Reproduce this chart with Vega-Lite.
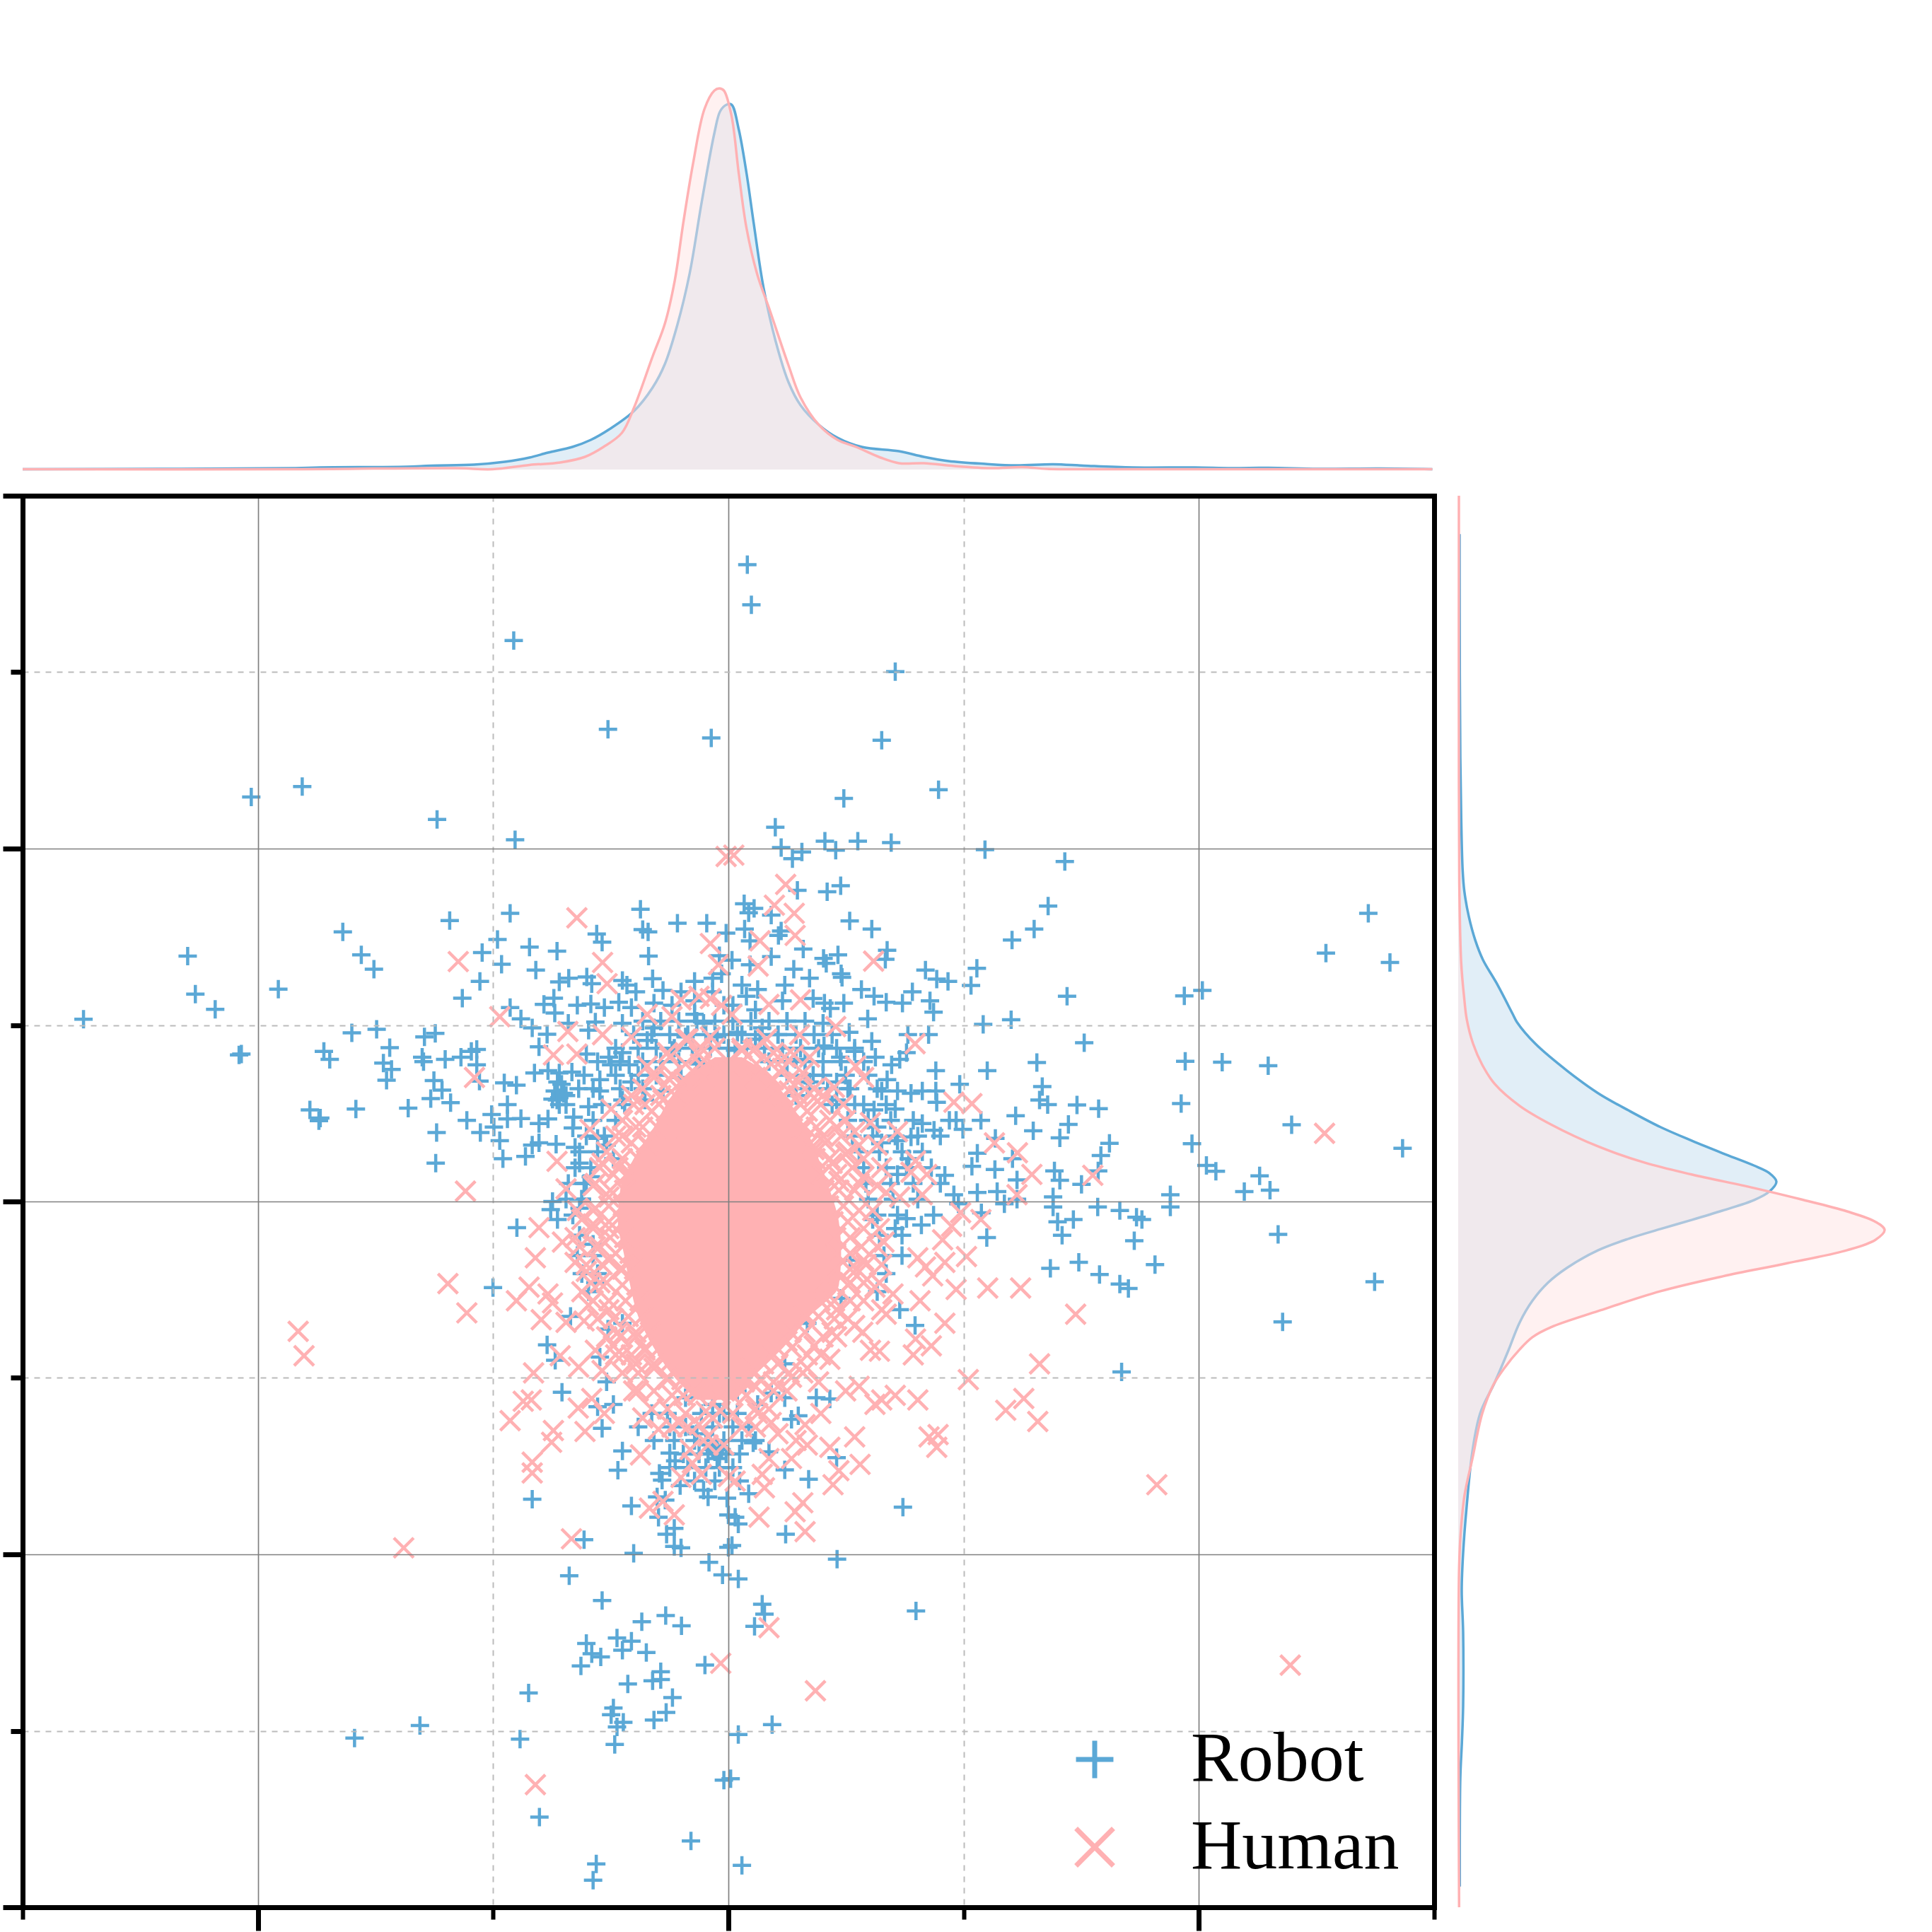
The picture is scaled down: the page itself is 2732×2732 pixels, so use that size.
{"$schema":"https://vega.github.io/schema/vega-lite/v6.json","padding":{"top":117,"left":0,"right":0,"bottom":0},"background":"white",
"config":{"view":{"stroke":null},"legend":{"labelFont":"Liberation Serif","labelFontSize":100,"labelColor":"#000","labelLimit":600,"symbolSize":2800,"symbolStrokeWidth":7,"title":null,"rowPadding":24,"labelOffset":86}},
"datasets":{
"robot":[{"x":-476,"y":1244},{"x":-267,"y":1047},{"x":-38,"y":1028},{"x":-945,"y":920},{"x":-1058,"y":897},{"x":-646,"y":847},{"x":-473,"y":802},{"x":-618,"y":623},{"x":-484,"y":639},{"x":-195,"y":648},{"x":-113,"y":617},{"x":-48,"y":617},{"x":-5,"y":595},{"x":-855,"y":598},{"x":-1199,"y":544},{"x":-512,"y":581},{"x":-814,"y":547},{"x":-546,"y":552},{"x":-441,"y":564},{"x":-380,"y":555},{"x":-292,"y":593},{"x":-280,"y":575},{"x":-190,"y":603},{"x":-178,"y":598},{"x":-177,"y":544},{"x":-786,"y":515},{"x":-503,"y":526},{"x":-427,"y":513},{"x":-1182,"y":460},{"x":-998,"y":471},{"x":-551,"y":488},{"x":-375,"y":487},{"x":-354,"y":495},{"x":-314,"y":498},{"x":-303,"y":483},{"x":-235,"y":490},{"x":-225,"y":480},{"x":-168,"y":494},{"x":-75,"y":488},{"x":-35,"y":495},{"x":-1138,"y":426},{"x":-590,"y":451},{"x":-387,"y":451},{"x":-409,"y":437},{"x":-385,"y":418},{"x":-335,"y":435},{"x":-305,"y":438},{"x":-275,"y":430},{"x":-243,"y":442},{"x":-205,"y":465},{"x":-145,"y":468},{"x":-105,"y":465},{"x":-165,"y":440},{"x":-215,"y":430},{"x":-1430,"y":404},{"x":-484,"y":430},{"x":-460,"y":405},{"x":-435,"y":385},{"x":-402,"y":371},{"x":-355,"y":395},{"x":-310,"y":380},{"x":-295,"y":398},{"x":-235,"y":395},{"x":-75,"y":415},{"x":-835,"y":374},{"x":-780,"y":382},{"x":-650,"y":373},{"x":-674,"y":365},{"x":-1080,"y":327},{"x":-1085,"y":325},{"x":-897,"y":333},{"x":-884,"y":315},{"x":-751,"y":341},{"x":-679,"y":320},{"x":-676,"y":310},{"x":-628,"y":315},{"x":-593,"y":320},{"x":-570,"y":333},{"x":-558,"y":337},{"x":-558,"y":303},{"x":-420,"y":343},{"x":-315,"y":327},{"x":-265,"y":320},{"x":-235,"y":330},{"x":-180,"y":357},{"x":-765,"y":307},{"x":-747,"y":293},{"x":-758,"y":269},{"x":-653,"y":268},{"x":-635,"y":247},{"x":-552,"y":267},{"x":-497,"y":263},{"x":-470,"y":258},{"x":-430,"y":285},{"x":-400,"y":290},{"x":-375,"y":285},{"x":-347,"y":287},{"x":-285,"y":270},{"x":-260,"y":303},{"x":-220,"y":303},{"x":-660,"y":228},{"x":-616,"y":219},{"x":-490,"y":215},{"x":-379,"y":265},{"x":-332,"y":250},{"x":-285,"y":245},{"x":-375,"y":230},{"x":-390,"y":227},{"x":-360,"y":215},{"x":-310,"y":210},{"x":-928,"y":203},{"x":-905,"y":185},{"x":-908,"y":179},{"x":-826,"y":205},{"x":-710,"y":207},{"x":-580,"y":180},{"x":-525,"y":193},{"x":-490,"y":183},{"x":-460,"y":184},{"x":-420,"y":173},{"x":-400,"y":183},{"x":-343,"y":187},{"x":-345,"y":163},{"x":-647,"y":153},{"x":-550,"y":153},{"x":-520,"y":165},{"x":-507,"y":135},{"x":-435,"y":125},{"x":-420,"y":130},{"x":-382,"y":127},{"x":-340,"y":120},{"x":-270,"y":125},{"x":-290,"y":140},{"x":-649,"y":85},{"x":-500,"y":95},{"x":-450,"y":100},{"x":-330,"y":85},{"x":-305,"y":55},{"x":-255,"y":95},{"x":-315,"y":40},{"x":-390,"y":0},{"x":-325,"y":5},{"x":-165,"y":385},{"x":-125,"y":335},{"x":-95,"y":365},{"x":-55,"y":395},{"x":-25,"y":365},{"x":-65,"y":305},{"x":-10,"y":435},{"x":-215,"y":265},{"x":-235,"y":225},{"x":-145,"y":245},{"x":-105,"y":275},{"x":-185,"y":225},{"x":-35,"y":465},{"x":-15,"y":505},{"x":-125,"y":435},{"x":-75,"y":445},{"x":-20,"y":545},
{"x":42,"y":1412},{"x":51,"y":1323},{"x":370,"y":1175},{"x":340,"y":1023},{"x":466,"y":913},{"x":256,"y":894},{"x":104,"y":830},{"x":214,"y":799},{"x":287,"y":799},{"x":361,"y":796},{"x":117,"y":785},{"x":163,"y":775},{"x":142,"y":760},{"x":238,"y":779},{"x":569,"y":780},{"x":746,"y":754},{"x":153,"y":690},{"x":219,"y":687},{"x":249,"y":700},{"x":35,"y":660},{"x":57,"y":650},{"x":45,"y":640},{"x":95,"y":635},{"x":709,"y":655},{"x":269,"y":622},{"x":318,"y":604},{"x":36,"y":604},{"x":117,"y":600},{"x":111,"y":590},{"x":678,"y":604},{"x":1419,"y":639},{"x":629,"y":580},{"x":48,"y":578},{"x":166,"y":560},{"x":352,"y":557},{"x":348,"y":537},{"x":1325,"y":551},{"x":243,"y":547},{"x":211,"y":539},{"x":217,"y":528},{"x":95,"y":543},{"x":8,"y":535},{"x":48,"y":525},{"x":1467,"y":530},{"x":145,"y":515},{"x":551,"y":517},{"x":250,"y":505},{"x":252,"y":497},{"x":437,"y":513},{"x":462,"y":493},{"x":487,"y":488},{"x":180,"y":495},{"x":538,"y":479},{"x":125,"y":480},{"x":30,"y":480},{"x":65,"y":470},{"x":295,"y":470},{"x":323,"y":455},{"x":350,"y":442},{"x":386,"y":440},{"x":408,"y":465},{"x":447,"y":445},{"x":455,"y":420},{"x":751,"y":455},{"x":1011,"y":456},{"x":1051,"y":468},{"x":188,"y":450},{"x":213,"y":440},{"x":226,"y":428},{"x":256,"y":440},{"x":40,"y":455},{"x":120,"y":445},{"x":309,"y":405},{"x":565,"y":393},{"x":627,"y":403},{"x":130,"y":400},{"x":75,"y":385},{"x":20,"y":375},{"x":210,"y":395},{"x":268,"y":375},{"x":398,"y":370},{"x":444,"y":370},{"x":789,"y":352},{"x":318,"y":355},{"x":212,"y":345},{"x":280,"y":333},{"x":326,"y":320},{"x":248,"y":320},{"x":380,"y":315},{"x":362,"y":303},{"x":395,"y":330},{"x":684,"y":308},{"x":1013,"y":311},{"x":1095,"y":309},{"x":1197,"y":301},{"x":574,"y":290},{"x":460,"y":290},{"x":188,"y":280},{"x":240,"y":265},{"x":352,"y":270},{"x":513,"y":260},{"x":696,"y":255},{"x":265,"y":250},{"x":340,"y":245},{"x":375,"y":245},{"x":405,"y":240},{"x":430,"y":245},{"x":460,"y":245},{"x":690,"y":225},{"x":708,"y":215},{"x":773,"y":214},{"x":821,"y":206},{"x":1004,"y":217},{"x":300,"y":215},{"x":323,"y":203},{"x":370,"y":205},{"x":462,"y":220},{"x":637,"y":190},{"x":560,"y":180},{"x":505,"y":180},{"x":490,"y":180},{"x":430,"y":173},{"x":456,"y":158},{"x":520,"y":160},{"x":676,"y":157},{"x":754,"y":171},{"x":1249,"y":170},{"x":735,"y":141},{"x":340,"y":130},{"x":405,"y":143},{"x":375,"y":135},{"x":592,"y":140},{"x":845,"y":129},{"x":1028,"y":128},{"x":1495,"y":118},{"x":552,"y":107},{"x":826,"y":102},{"x":630,"y":95},{"x":400,"y":95},{"x":540,"y":78},{"x":591,"y":71},{"x":723,"y":68},{"x":820,"y":68},{"x":1060,"y":80},{"x":1081,"y":67},{"x":375,"y":60},{"x":480,"y":58},{"x":1178,"y":57},{"x":640,"y":48},{"x":735,"y":47},{"x":783,"y":38},{"x":1201,"y":25},{"x":552,"y":20},{"x":596,"y":22},{"x":1144,"y":22},{"x":980,"y":15},{"x":500,"y":15},{"x":720,"y":10},{"x":640,"y":5},{"x":10,"y":435},{"x":60,"y":425},{"x":110,"y":370},{"x":60,"y":360},{"x":15,"y":335},{"x":150,"y":315},{"x":180,"y":265},{"x":240,"y":225},{"x":150,"y":235},{"x":330,"y":165},
{"x":-394,"y":-18},{"x":-379,"y":-40},{"x":-469,"y":-58},{"x":-330,"y":-15},{"x":-522,"y":-191},{"x":-300,"y":-95},{"x":-295,"y":-180},{"x":-350,"y":-255},{"x":-267,"y":-283},{"x":-235,"y":-270},{"x":-402,"y":-318},{"x":-384,"y":-352},{"x":-285,"y":-345},{"x":-369,"y":-423},{"x":-270,"y":-400},{"x":-290,"y":-455},{"x":-255,"y":-450},{"x":-95,"y":-435},{"x":-35,"y":-450},{"x":-280,"y":-503},{"x":-235,"y":-553},{"x":-130,"y":-558},{"x":-118,"y":-575},{"x":-70,"y":-515},{"x":-35,"y":-550},{"x":-20,"y":-560},{"x":-10,"y":-470},{"x":-25,"y":-570},{"x":-40,"y":-540},{"x":-30,"y":-555},{"x":-25,"y":-545},{"x":-45,"y":-560},{"x":-15,"y":-550},{"x":-245,"y":-596},{"x":-153,"y":-603},{"x":-147,"y":-618},{"x":-107,"y":-630},{"x":-55,"y":-640},{"x":-45,"y":-655},{"x":-435,"y":-660},{"x":-215,"y":-675},{"x":-158,"y":-655},{"x":-140,"y":-662},{"x":-3,"y":-658},{"x":-155,"y":-700},{"x":0,"y":-695},{"x":-320,"y":-750},{"x":-120,"y":-725},{"x":-137,"y":-738},{"x":-120,"y":-765},{"x":-105,"y":-768},{"x":-210,"y":-780},{"x":0,"y":-767},{"x":-43,"y":-800},{"x":-353,"y":-830},{"x":-13,"y":-828},{"x":-280,"y":-885},{"x":-192,"y":-932},{"x":-139,"y":-918},{"x":-104,"y":-941},{"x":-315,"y":-980},{"x":-247,"y":-968},{"x":-215,"y":-975},{"x":-303,"y":-1003},{"x":-283,"y":-1010},{"x":-235,"y":-995},{"x":-182,"y":-1000},{"x":-327,"y":-1030},{"x":-52,"y":-1028},{"x":-150,"y":-1043},{"x":-150,"y":-1060},{"x":-168,"y":-1063},{"x":-223,"y":-1070},{"x":-443,"y":-1090},{"x":-124,"y":-1100},{"x":-255,"y":-1123},{"x":-260,"y":-1138},{"x":-233,"y":-1155},{"x":-165,"y":-1150},{"x":-138,"y":-1133},{"x":-247,"y":-1165},{"x":-684,"y":-1162},{"x":-829,"y":-1190},{"x":-462,"y":-1192},{"x":-252,"y":-1204},{"x":-10,"y":-1283},{"x":-419,"y":-1365},{"x":-83,"y":-1418},{"x":-293,"y":-1469},{"x":-300,"y":-1505},
{"x":720,"y":-12},{"x":819,"y":-12},{"x":868,"y":-20},{"x":980,"y":-12},{"x":905,"y":-35},{"x":917,"y":-40},{"x":765,"y":-40},{"x":730,"y":-45},{"x":612,"y":-5},{"x":561,"y":-25},{"x":455,"y":-30},{"x":395,"y":-38},{"x":428,"y":-52},{"x":1219,"y":-73},{"x":740,"y":-75},{"x":900,"y":-87},{"x":573,"y":-80},{"x":1433,"y":-178},{"x":777,"y":-135},{"x":946,"y":-140},{"x":714,"y":-148},{"x":823,"y":-162},{"x":868,"y":-183},{"x":887,"y":-193},{"x":1229,"y":-267},{"x":380,"y":-240},{"x":414,"y":-275},{"x":872,"y":-378},{"x":225,"y":-438},{"x":195,"y":-435},{"x":125,"y":-435},{"x":95,"y":-425},{"x":65,"y":-450},{"x":140,"y":-483},{"x":155,"y":-475},{"x":55,"y":-535},{"x":90,"y":-555},{"x":125,"y":-595},{"x":240,"y":-568},{"x":178,"y":-616},{"x":45,"y":-648},{"x":387,"y":-678},{"x":15,"y":-700},{"x":22,"y":-715},{"x":127,"y":-738},{"x":8,"y":-763},{"x":241,"y":-793},{"x":22,"y":-837},{"x":75,"y":-893},{"x":80,"y":-915},{"x":58,"y":-942},{"x":416,"y":-908},{"x":97,"y":-1160},{"x":22,"y":-1182},{"x":30,"y":-1472},{"x":5,"y":-1280},{"x":510,"y":-5},{"x":270,"y":-130},{"x":250,"y":-215},{"x":175,"y":-270},{"x":125,"y":-360},{"x":20,"y":-420},{"x":320,"y":-40},{"x":370,"y":-60},
{"x":-190,"y":400},{"x":-150,"y":400},{"x":-110,"y":400},{"x":-70,"y":400},{"x":-30,"y":400},{"x":10,"y":400},{"x":50,"y":400},{"x":90,"y":400},{"x":130,"y":400},{"x":170,"y":400},{"x":-210,"y":370},{"x":-170,"y":370},{"x":-130,"y":370},{"x":-90,"y":370},{"x":-50,"y":370},{"x":-10,"y":370},{"x":30,"y":370},{"x":70,"y":370},{"x":110,"y":370},{"x":150,"y":370},{"x":190,"y":370},{"x":230,"y":370},{"x":-250,"y":340},{"x":-200,"y":340},{"x":-160,"y":340},{"x":-120,"y":340},{"x":-80,"y":340},{"x":-40,"y":340},{"x":0,"y":340},{"x":40,"y":340},{"x":80,"y":340},{"x":120,"y":340},{"x":160,"y":340},{"x":200,"y":340},{"x":240,"y":340},{"x":280,"y":340},{"x":-290,"y":310},{"x":-240,"y":310},{"x":-190,"y":310},{"x":-150,"y":310},{"x":-110,"y":310},{"x":-70,"y":310},{"x":90,"y":310},{"x":130,"y":310},{"x":170,"y":310},{"x":210,"y":310},{"x":250,"y":310},{"x":300,"y":310},{"x":-320,"y":280},{"x":-250,"y":280},{"x":-200,"y":280},{"x":-160,"y":280},{"x":130,"y":280},{"x":170,"y":280},{"x":210,"y":280},{"x":260,"y":280},{"x":310,"y":280},{"x":-300,"y":250},{"x":-240,"y":250},{"x":-190,"y":250},{"x":175,"y":250},{"x":220,"y":250},{"x":270,"y":250},{"x":330,"y":250},{"x":-280,"y":215},{"x":-230,"y":215},{"x":230,"y":215},{"x":280,"y":215},{"x":350,"y":215},{"x":-300,"y":180},{"x":-250,"y":180},{"x":265,"y":180},{"x":310,"y":180},{"x":360,"y":180},{"x":410,"y":180},{"x":-315,"y":145},{"x":-275,"y":145},{"x":275,"y":145},{"x":320,"y":145},{"x":370,"y":145},{"x":420,"y":145},{"x":470,"y":145},{"x":-330,"y":110},{"x":-290,"y":110},{"x":290,"y":110},{"x":335,"y":110},{"x":385,"y":110},{"x":430,"y":110},{"x":-340,"y":75},{"x":-305,"y":75},{"x":300,"y":75},{"x":350,"y":75},{"x":395,"y":75},{"x":450,"y":75},{"x":-355,"y":40},{"x":-320,"y":40},{"x":305,"y":40},{"x":360,"y":40},{"x":410,"y":40},{"x":470,"y":40},{"x":-360,"y":5},{"x":-325,"y":5},{"x":310,"y":5},{"x":365,"y":5},{"x":420,"y":5},{"x":-345,"y":-30},{"x":330,"y":-30},{"x":375,"y":-30},{"x":-330,"y":-75},{"x":335,"y":-75},{"x":385,"y":-75},{"x":-335,"y":-120},{"x":-300,"y":-120},{"x":345,"y":-120},{"x":385,"y":-120},{"x":-325,"y":-160},{"x":-290,"y":-160},{"x":350,"y":-160},{"x":-310,"y":-200},{"x":330,"y":-200},{"x":-385,"y":245},{"x":-365,"y":240},{"x":-370,"y":260},{"x":-380,"y":225},{"x":-360,"y":235},{"x":-375,"y":215},{"x":-170,"y":-470},{"x":-135,"y":-470},{"x":-60,"y":-470},{"x":-20,"y":-470},{"x":20,"y":-470},{"x":-200,"y":-500},{"x":-130,"y":-500},{"x":-95,"y":-500},{"x":-35,"y":-500},{"x":10,"y":-500},{"x":45,"y":-500},{"x":-165,"y":-530},{"x":-120,"y":-530},{"x":-75,"y":-530},{"x":-50,"y":-530},{"x":-10,"y":-530},{"x":30,"y":-530},{"x":60,"y":-530},{"x":-100,"y":-560},{"x":-65,"y":-560},{"x":-5,"y":-560},{"x":25,"y":-560},{"x":-130,"y":-590},{"x":-90,"y":-590},{"x":-50,"y":-590},{"x":-20,"y":-590},{"x":10,"y":-590},{"x":-75,"y":-620},{"x":-30,"y":-620},{"x":25,"y":-620}],
"human":[{"x":-336,"y":629},{"x":-599,"y":532},{"x":-40,"y":572},{"x":-279,"y":530},{"x":-22,"y":525},{"x":-269,"y":483},{"x":-507,"y":410},{"x":-105,"y":447},{"x":-65,"y":455},{"x":-40,"y":450},{"x":-15,"y":435},{"x":-180,"y":415},{"x":-125,"y":410},{"x":-356,"y":377},{"x":-279,"y":370},{"x":-215,"y":365},{"x":-95,"y":360},{"x":-40,"y":365},{"x":-388,"y":325},{"x":-336,"y":327},{"x":-563,"y":275},{"x":-135,"y":330},{"x":-65,"y":325},{"x":-180,"y":300},{"x":-125,"y":280},{"x":-260,"y":205},{"x":-215,"y":235},{"x":-307,"y":160},{"x":-165,"y":275},{"x":-235,"y":145},{"x":-185,"y":215},{"x":-380,"y":89},{"x":-280,"y":85},{"x":-360,"y":28},{"x":-583,"y":23},{"x":-300,"y":35},{"x":-245,"y":75},{"x":-205,"y":165},{"x":-145,"y":225},{"x":-105,"y":265},{"x":-55,"y":275},{"x":-25,"y":295},{"x":-5,"y":765},{"x":-265,"y":10},{"x":-220,"y":65},{"x":-180,"y":125},{"x":-135,"y":165},{"x":-85,"y":215},
{"x":12,"y":768},{"x":127,"y":703},{"x":102,"y":657},{"x":146,"y":639},{"x":70,"y":578},{"x":148,"y":590},{"x":66,"y":522},{"x":322,"y":533},{"x":160,"y":447},{"x":90,"y":437},{"x":8,"y":415},{"x":238,"y":388},{"x":158,"y":370},{"x":414,"y":350},{"x":180,"y":320},{"x":145,"y":325},{"x":100,"y":330},{"x":55,"y":335},{"x":30,"y":335},{"x":282,"y":300},{"x":300,"y":275},{"x":235,"y":253},{"x":10,"y":295},{"x":60,"y":275},{"x":120,"y":295},{"x":155,"y":265},{"x":190,"y":230},{"x":210,"y":235},{"x":255,"y":215},{"x":500,"y":220},{"x":540,"y":217},{"x":315,"y":175},{"x":280,"y":155},{"x":375,"y":155},{"x":240,"y":165},{"x":210,"y":145},{"x":170,"y":165},{"x":190,"y":115},{"x":330,"y":125},{"x":300,"y":95},{"x":415,"y":90},{"x":440,"y":60},{"x":590,"y":130},{"x":641,"y":108},{"x":673,"y":60},{"x":808,"y":58},{"x":1322,"y":151},{"x":640,"y":15},{"x":430,"y":15},{"x":405,"y":65},{"x":300,"y":55},{"x":340,"y":75},{"x":260,"y":105},{"x":230,"y":85},{"x":280,"y":25},{"x":330,"y":35},{"x":380,"y":10},{"x":245,"y":45},{"x":135,"y":245},{"x":100,"y":235},{"x":260,"y":180},{"x":160,"y":215},{"x":290,"y":125},{"x":350,"y":20},
{"x":-420,"y":-58},{"x":-325,"y":-40},{"x":-300,"y":-50},{"x":-368,"y":-90},{"x":-340,"y":-80},{"x":-428,"y":-125},{"x":-340,"y":-135},{"x":-315,"y":-155},{"x":-622,"y":-182},{"x":-442,"y":-190},{"x":-470,"y":-220},{"x":-400,"y":-205},{"x":-390,"y":-225},{"x":-580,"y":-247},{"x":-415,"y":-262},{"x":-360,"y":-268},{"x":-320,"y":-265},{"x":-310,"y":-230},{"x":-265,"y":-240},{"x":-954,"y":-288},{"x":-941,"y":-342},{"x":-373,"y":-342},{"x":-432,"y":-380},{"x":-332,"y":-367},{"x":-295,"y":-330},{"x":-235,"y":-340},{"x":-255,"y":-320},{"x":-280,"y":-375},{"x":-205,"y":-360},{"x":-165,"y":-370},{"x":-210,"y":-420},{"x":-455,"y":-443},{"x":-437,"y":-440},{"x":-303,"y":-437},{"x":-333,"y":-458},{"x":-275,"y":-470},{"x":-484,"y":-486},{"x":-388,"y":-508},{"x":-318,"y":-510},{"x":-392,"y":-534},{"x":-190,"y":-480},{"x":-155,"y":-505},{"x":-110,"y":-490},{"x":-65,"y":-495},{"x":-45,"y":-520},{"x":-195,"y":-562},{"x":-85,"y":-550},{"x":-435,"y":-578},{"x":-435,"y":-602},{"x":-105,"y":-612},{"x":-80,"y":-580},{"x":-60,"y":-605},{"x":-175,"y":-680},{"x":-145,"y":-665},{"x":-120,"y":-695},{"x":-348,"y":-748},{"x":-720,"y":-768},{"x":-17,"y":-1024},{"x":-428,"y":-1293},{"x":0,"y":-610},{"x":-125,"y":-430},{"x":-95,"y":-470},{"x":-35,"y":-480},{"x":-245,"y":-290},{"x":-185,"y":-330},{"x":-135,"y":-390},{"x":-75,"y":-420},{"x":-20,"y":-430},{"x":-205,"y":-300},{"x":-285,"y":-180},{"x":-265,"y":-130},{"x":-325,"y":-200},{"x":-235,"y":-150},{"x":-285,"y":-100},{"x":-265,"y":-60},{"x":-295,"y":-15},
{"x":515,"y":-25},{"x":560,"y":-40},{"x":495,"y":-55},{"x":475,"y":-85},{"x":345,"y":-90},{"x":420,"y":-125},{"x":528,"y":-122},{"x":480,"y":-135},{"x":437,"y":-145},{"x":453,"y":-165},{"x":505,"y":-195},{"x":575,"y":-192},{"x":648,"y":-192},{"x":770,"y":-250},{"x":365,"y":-205},{"x":425,"y":-220},{"x":325,"y":-190},{"x":300,"y":-130},{"x":285,"y":-150},{"x":270,"y":-180},{"x":350,"y":-250},{"x":340,"y":-240},{"x":480,"y":-270},{"x":280,"y":-275},{"x":298,"y":-290},{"x":415,"y":-305},{"x":450,"y":-320},{"x":410,"y":-340},{"x":315,"y":-330},{"x":335,"y":-332},{"x":225,"y":-350},{"x":175,"y":-370},{"x":140,"y":-390},{"x":690,"y":-360},{"x":532,"y":-395},{"x":290,"y":-410},{"x":260,"y":-420},{"x":200,"y":-400},{"x":370,"y":-430},{"x":420,"y":-440},{"x":325,"y":-450},{"x":340,"y":-440},{"x":655,"y":-437},{"x":615,"y":-463},{"x":686,"y":-488},{"x":100,"y":-400},{"x":60,"y":-410},{"x":30,"y":-420},{"x":10,"y":-470},{"x":65,"y":-470},{"x":95,"y":-490},{"x":205,"y":-470},{"x":170,"y":-495},{"x":110,"y":-515},{"x":445,"y":-522},{"x":465,"y":-517},{"x":462,"y":-545},{"x":280,"y":-522},{"x":150,"y":-530},{"x":175,"y":-540},{"x":225,"y":-545},{"x":90,"y":-570},{"x":140,"y":-570},{"x":292,"y":-583},{"x":950,"y":-628},{"x":245,"y":-597},{"x":232,"y":-628},{"x":75,"y":-605},{"x":15,"y":-620},{"x":80,"y":-635},{"x":165,"y":-668},{"x":148,"y":-688},{"x":68,"y":-700},{"x":170,"y":-732},{"x":90,"y":-945},{"x":193,"y":-1085},{"x":1246,"y":-1028},{"x":35,"y":-400},{"x":130,"y":-310},{"x":190,"y":-320},{"x":230,"y":-290},{"x":170,"y":-250},{"x":240,"y":-240},{"x":215,"y":-180},{"x":100,"y":-340},{"x":50,"y":-370},
{"x":-60,"y":340},{"x":-30,"y":340},{"x":30,"y":340},{"x":60,"y":340},{"x":-95,"y":305},{"x":-62,"y":305},{"x":62,"y":305},{"x":95,"y":305},{"x":-130,"y":270},{"x":-98,"y":270},{"x":100,"y":270},{"x":135,"y":270},{"x":-150,"y":235},{"x":-118,"y":235},{"x":122,"y":235},{"x":155,"y":235},{"x":-170,"y":200},{"x":-138,"y":200},{"x":142,"y":200},{"x":175,"y":200},{"x":-190,"y":165},{"x":-158,"y":165},{"x":162,"y":165},{"x":195,"y":165},{"x":-215,"y":130},{"x":-182,"y":130},{"x":182,"y":130},{"x":215,"y":130},{"x":-235,"y":95},{"x":-200,"y":95},{"x":192,"y":95},{"x":225,"y":95},{"x":-255,"y":60},{"x":-222,"y":60},{"x":207,"y":60},{"x":240,"y":60},{"x":-262,"y":25},{"x":-230,"y":25},{"x":212,"y":25},{"x":245,"y":25},{"x":-265,"y":-10},{"x":-233,"y":-10},{"x":222,"y":-10},{"x":255,"y":-10},{"x":-265,"y":-45},{"x":-232,"y":-45},{"x":232,"y":-45},{"x":265,"y":-45},{"x":-262,"y":-80},{"x":-230,"y":-80},{"x":238,"y":-80},{"x":270,"y":-80},{"x":-250,"y":-115},{"x":-218,"y":-115},{"x":238,"y":-115},{"x":270,"y":-115},{"x":-240,"y":-150},{"x":-208,"y":-150},{"x":238,"y":-150},{"x":270,"y":-150},{"x":-235,"y":-185},{"x":-203,"y":-185},{"x":232,"y":-185},{"x":265,"y":-185},{"x":-228,"y":-220},{"x":-196,"y":-220},{"x":203,"y":-220},{"x":235,"y":-220},{"x":-222,"y":-255},{"x":-190,"y":-255},{"x":168,"y":-255},{"x":200,"y":-255},{"x":-205,"y":-290},{"x":-173,"y":-290},{"x":138,"y":-290},{"x":170,"y":-290},{"x":-185,"y":-325},{"x":-153,"y":-325},{"x":108,"y":-325},{"x":140,"y":-325},{"x":-165,"y":-360},{"x":-133,"y":-360},{"x":78,"y":-360},{"x":110,"y":-360},{"x":-135,"y":-395},{"x":-103,"y":-395},{"x":38,"y":-395},{"x":70,"y":-395},{"x":-100,"y":-430},{"x":-68,"y":-430},{"x":8,"y":-430},{"x":40,"y":-430},{"x":-50,"y":-465},{"x":-18,"y":-465},
{"x":290,"y":-20},{"x":320,"y":-20},{"x":300,"y":-60},{"x":335,"y":-60},{"x":295,"y":-100},{"x":330,"y":-100},{"x":305,"y":-140},{"x":340,"y":-140},{"x":300,"y":-180},{"x":335,"y":-180},{"x":270,"y":-220},{"x":300,"y":-220},{"x":235,"y":-260},{"x":265,"y":-260},{"x":210,"y":-300},{"x":240,"y":-300},{"x":175,"y":-340},{"x":205,"y":-340},{"x":135,"y":-380},{"x":165,"y":-380},{"x":100,"y":-420},{"x":130,"y":-420},{"x":60,"y":-460},{"x":90,"y":-460},{"x":30,"y":-500},{"x":60,"y":-500},{"x":-300,"y":-20},{"x":-335,"y":-20},{"x":-300,"y":-60},{"x":-295,"y":-100},{"x":-330,"y":-100},{"x":-280,"y":-140},{"x":-315,"y":-140},{"x":-270,"y":-180},{"x":-305,"y":-180},{"x":-265,"y":-220},{"x":-300,"y":-220},{"x":-255,"y":-260},{"x":-290,"y":-260},{"x":-240,"y":-300},{"x":-270,"y":-300},{"x":-215,"y":-340},{"x":-250,"y":-340},{"x":-200,"y":-380},{"x":-235,"y":-380},{"x":-165,"y":-420},{"x":-200,"y":-420},{"x":-135,"y":-460},{"x":-170,"y":-460},{"x":-90,"y":-500},{"x":-125,"y":-500},{"x":-45,"y":-540},{"x":-10,"y":-540},{"x":-90,"y":360},{"x":85,"y":360},{"x":-130,"y":320},{"x":125,"y":320},{"x":-165,"y":285},{"x":165,"y":285},{"x":-190,"y":250},{"x":190,"y":250},{"x":-210,"y":215},{"x":205,"y":215},{"x":-235,"y":180},{"x":225,"y":180},{"x":-250,"y":145},{"x":250,"y":145},{"x":-270,"y":110},{"x":265,"y":110},{"x":-285,"y":75},{"x":275,"y":75},{"x":-295,"y":40},{"x":290,"y":40}],
"core":[{"y":320,"lo":-30,"hi":30},{"y":285,"lo":-80,"hi":85},{"y":235,"lo":-125,"hi":125},{"y":165,"lo":-165,"hi":170},{"y":95,"lo":-210,"hi":200},{"y":25,"lo":-240,"hi":225},{"y":-45,"lo":-245,"hi":245},{"y":-115,"lo":-232,"hi":250},{"y":-185,"lo":-218,"hi":245},{"y":-255,"lo":-200,"hi":180},{"y":-325,"lo":-165,"hi":120},{"y":-395,"lo":-115,"hi":50},{"y":-440,"lo":-70,"hi":15}],
"topR":[{"x":-1565,"d":0.5},{"x":-1261,"d":1},{"x":-960,"d":2},{"x":-906,"d":3},{"x":-714,"d":4},{"x":-660,"d":5.6},{"x":-564,"d":7},{"x":-496,"d":11},{"x":-441,"d":17},{"x":-400,"d":24},{"x":-346,"d":32},{"x":-305,"d":42},{"x":-264,"d":57},{"x":-209,"d":83},{"x":-168,"d":116},{"x":-141,"d":149},{"x":-113,"d":205},{"x":-86,"d":277},{"x":-59,"d":379},{"x":-31,"d":476},{"x":-18,"d":507},{"x":-4,"d":516},{"x":7,"d":516},{"x":23,"d":481},{"x":40,"d":420},{"x":56,"d":349},{"x":78,"d":257},{"x":105,"d":181},{"x":133,"d":124},{"x":160,"d":91},{"x":201,"d":63},{"x":242,"d":45},{"x":296,"d":32},{"x":378,"d":26},{"x":433,"d":18},{"x":488,"d":12},{"x":570,"d":8},{"x":638,"d":6},{"x":720,"d":7.6},{"x":788,"d":5.6},{"x":897,"d":3},{"x":1034,"d":3},{"x":1116,"d":2},{"x":1198,"d":2.5},{"x":1307,"d":1},{"x":1444,"d":1.5},{"x":1561,"d":0.5}],
"topH":[{"x":-1565,"d":0.5},{"x":-960,"d":0.5},{"x":-605,"d":2},{"x":-523,"d":0.5},{"x":-441,"d":6.6},{"x":-373,"d":10},{"x":-318,"d":18},{"x":-277,"d":32},{"x":-236,"d":52},{"x":-209,"d":88},{"x":-168,"d":160},{"x":-141,"d":206},{"x":-119,"d":267},{"x":-100,"d":349},{"x":-78,"d":434},{"x":-53,"d":510},{"x":-31,"d":536},{"x":-20,"d":539},{"x":-10,"d":536},{"x":7,"d":500},{"x":23,"d":419},{"x":40,"d":342},{"x":64,"d":276},{"x":92,"d":225},{"x":133,"d":148},{"x":160,"d":102},{"x":201,"d":63},{"x":242,"d":42},{"x":283,"d":32},{"x":337,"d":17},{"x":378,"d":9},{"x":433,"d":9},{"x":501,"d":5},{"x":583,"d":2},{"x":652,"d":3.6},{"x":706,"d":1},{"x":843,"d":0.5},{"x":1561,"d":0.5}],
"sideR":[{"y":1480,"d":2},{"y":1168,"d":2.3},{"y":985,"d":3},{"y":848,"d":4.3},{"y":735,"d":6.3},{"y":688,"d":8.7},{"y":632,"d":15},{"y":580,"d":24},{"y":536,"d":35},{"y":485,"d":54},{"y":416,"d":77},{"y":398,"d":83},{"y":350,"d":109},{"y":290,"d":154},{"y":240,"d":198},{"y":201,"d":242},{"y":165,"d":286},{"y":135,"d":330},{"y":107,"d":374},{"y":80,"d":418},{"y":63,"d":440},{"y":44,"d":450},{"y":22,"d":440},{"y":3,"d":418},{"y":-20,"d":374},{"y":-41,"d":330},{"y":-61,"d":286},{"y":-82,"d":242},{"y":-108,"d":198},{"y":-147,"d":154},{"y":-180,"d":127},{"y":-220,"d":105},{"y":-268,"d":87},{"y":-334,"d":70},{"y":-400,"d":52},{"y":-470,"d":31},{"y":-555,"d":20},{"y":-676,"d":12},{"y":-779,"d":7},{"y":-861,"d":5},{"y":-956,"d":7},{"y":-1118,"d":7},{"y":-1198,"d":5.3},{"y":-1278,"d":3},{"y":-1519,"d":2.3}],
"sideH":[{"y":1565,"d":1},{"y":928,"d":1},{"y":688,"d":1.7},{"y":528,"d":4.3},{"y":448,"d":8.7},{"y":405,"d":12},{"y":350,"d":21},{"y":303,"d":34},{"y":260,"d":52},{"y":212,"d":87},{"y":171,"d":131},{"y":122,"d":198},{"y":86,"d":264},{"y":60,"d":330},{"y":30,"d":418},{"y":5,"d":484},{"y":-22,"d":550},{"y":-45,"d":590},{"y":-63,"d":603},{"y":-85,"d":590},{"y":-108,"d":550},{"y":-138,"d":462},{"y":-166,"d":374},{"y":-199,"d":286},{"y":-243,"d":198},{"y":-279,"d":131},{"y":-301,"d":105},{"y":-328,"d":87},{"y":-370,"d":65},{"y":-406,"d":50},{"y":-470,"d":34},{"y":-571,"d":20},{"y":-651,"d":9},{"y":-732,"d":3.7},{"y":-812,"d":1.3},{"y":-1565,"d":1.3}]},
"bounds":"flush","spacing":37,
"vconcat":[
{"width":1996,"height":540,
"encoding":{"x":{"field":"x","type":"quantitative","axis":null,"scale":{"domain":[-1565,1565],"nice":false}},"y":{"field":"d","type":"quantitative","axis":null,"scale":{"domain":[0,540],"nice":false}}},
"layer":[
{"data":{"name":"topR"},"mark":{"type":"area","interpolate":"catmull-rom","fill":"#C4DEEF","fillOpacity":0.5}},
{"data":{"name":"topR"},"mark":{"type":"line","interpolate":"catmull-rom","stroke":"#5BA8D6","strokeWidth":3.5}},
{"data":{"name":"topH"},"mark":{"type":"area","interpolate":"catmull-rom","fill":"#FFE3E3","fillOpacity":0.5}},
{"data":{"name":"topH"},"mark":{"type":"line","interpolate":"catmull-rom","stroke":"#FFB1B3","strokeWidth":3.5}}]},
{"bounds":"flush","spacing":34,"hconcat":[
{"width":1996,"height":1996,
"resolve":{"axis":{"x":"independent","y":"independent"}},
"layer":[
{"data":{"name":"robot"},"mark":{"type":"point","filled":false,"strokeWidth":4.5,"size":676,"opacity":1},
"encoding":{
"x":{"field":"x","type":"quantitative","scale":{"domain":[-1565,1565],"nice":false},"axis":{"orient":"bottom","values":[-1043,0,1043],"labels":false,"title":null,"tickSize":33,"tickWidth":7,"tickColor":"#000","domainColor":"#000","domainWidth":7,"domainCap":"square","grid":true,"gridColor":"#808080","gridWidth":1.7,"zindex":1}},
"y":{"field":"y","type":"quantitative","scale":{"domain":[-1565,1565],"nice":false},"axis":{"orient":"left","values":[-1565,-782,0,782,1565],"labels":false,"title":null,"tickSize":28,"tickWidth":7,"tickColor":"#000","domainColor":"#000","domainWidth":7,"domainCap":"square","grid":true,"gridColor":"#808080","gridWidth":1.7,"zindex":1}},
"color":{"datum":"Robot","scale":{"domain":["Robot","Human"],"range":["#5BA8D6","#FFB1B3"]},"legend":{"orient":"none","legendX":1466,"legendY":2314}},
"shape":{"datum":"Robot","scale":{"domain":["Robot","Human"],"range":["M-1,0H1M0,-1V1","M-1,-1L1,1M-1,1L1,-1"]},"legend":{"orient":"none","legendX":1466,"legendY":2314}}}},
{"data":{"name":"core"},"mark":{"type":"area","orient":"horizontal","interpolate":"monotone","fill":"#FFB1B3"},
"encoding":{
"y":{"field":"y","type":"quantitative","axis":{"orient":"left","values":[-1174,-391,391,1174],"labels":false,"title":null,"domain":false,"tickSize":17,"tickWidth":7,"tickColor":"#000","grid":true,"gridColor":"#BBBBBB","gridWidth":2,"gridDash":[8,8],"zindex":1}},
"x":{"field":"lo","type":"quantitative","axis":{"orient":"bottom","values":[-1565,-522,522,1565],"labels":false,"title":null,"domain":false,"tickSize":17,"tickWidth":6,"tickColor":"#000","grid":true,"gridColor":"#BBBBBB","gridWidth":2,"gridDash":[8,8],"zindex":1}},
"x2":{"field":"hi"}}},
{"data":{"name":"human"},"mark":{"type":"point","filled":false,"strokeWidth":4.5,"size":784,"opacity":1},
"encoding":{
"x":{"field":"x","type":"quantitative","axis":{"orient":"top","values":[],"labels":false,"title":null,"ticks":false,"domainColor":"#000","domainWidth":7,"domainCap":"square","grid":false,"zindex":1}},
"y":{"field":"y","type":"quantitative","axis":{"orient":"right","values":[],"labels":false,"title":null,"ticks":false,"domainColor":"#000","domainWidth":7,"domainCap":"square","grid":false,"zindex":1}},
"color":{"datum":"Human"},"shape":{"datum":"Human"}}}]},
{"width":603,"height":1996,
"encoding":{"y":{"field":"y","type":"quantitative","axis":null,"scale":{"domain":[-1565,1565],"nice":false}},"x":{"field":"d","type":"quantitative","axis":null,"scale":{"domain":[0,603],"nice":false}}},
"layer":[
{"data":{"name":"sideR"},"mark":{"type":"area","orient":"horizontal","interpolate":"catmull-rom","fill":"#C4DEEF","fillOpacity":0.5}},
{"data":{"name":"sideR"},"mark":{"type":"line","orient":"horizontal","interpolate":"catmull-rom","stroke":"#5BA8D6","strokeWidth":3.5}},
{"data":{"name":"sideH"},"mark":{"type":"area","orient":"horizontal","interpolate":"catmull-rom","fill":"#FFE3E3","fillOpacity":0.5}},
{"data":{"name":"sideH"},"mark":{"type":"line","orient":"horizontal","interpolate":"catmull-rom","stroke":"#FFB1B3","strokeWidth":3.5}}]}
]}
]}
